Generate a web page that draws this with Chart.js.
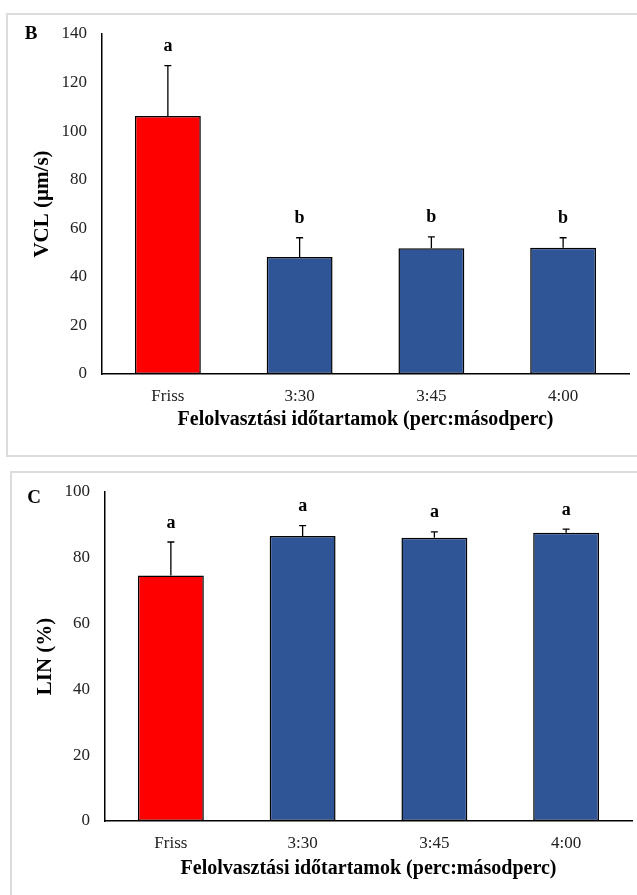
<!DOCTYPE html>
<html><head><meta charset="utf-8">
<script src="https://cdn.jsdelivr.net/npm/chart.js@4"></script>
<style>
html,body{margin:0;padding:0;background:#fff;}
body{position:relative;width:637px;height:895px;overflow:hidden;}
.box{position:absolute;border:2px solid #dcdcdc;box-sizing:border-box;}
canvas{position:absolute;left:0;}
</style></head><body>
<div class="box" style="left:6px;top:13px;width:640px;height:444px;"></div>
<div class="box" style="left:10px;top:471px;width:640px;height:440px;"></div>
<canvas id="cB" width="637" height="455" style="top:0"></canvas>
<canvas id="cC" width="637" height="440" style="top:455px"></canvas>
<script>
// ---- data ----
const categories = ['Friss', '3:30', '3:45', '4:00'];
const vclMeans   = [106.2, 48.2, 51.8, 52.0];
const vclErrors  = [20.8, 7.9, 4.7, 4.1];
const vclLetters = ['a', 'b', 'b', 'b'];
const linMeans   = [74.6, 86.6, 86.1, 87.6];
const linErrors  = [10.2, 3.2, 1.8, 1.1];
const linLetters = ['a', 'a', 'a', 'a'];
const vclAxisMax = 140, vclStep = 20;
const linAxisMax = 100, linStep = 20;
const xTitle = 'Felolvasztási időtartamok (perc:másodperc)';
const vclTitle = 'VCL (µm/s)';
const linTitle = 'LIN (%)';

const SERIF = '"Liberation Serif", "Times New Roman", serif';

const annotPlugin = {
  id: 'annot',
  afterDatasetsDraw(chart, args, opts) {
    const ctx = chart.ctx;
    const meta = chart.getDatasetMeta(0);
    const ys = chart.scales.y;
    const ds = chart.data.datasets[0];
    ctx.save();
    meta.data.forEach((bar, i) => {
      const v = ds.data[i];
      const top = ys.getPixelForValue(v + opts.errors[i]);
      const base = ys.getPixelForValue(v);
      ctx.strokeStyle = '#000';
      ctx.lineWidth = 1.3;
      ctx.beginPath();
      ctx.moveTo(bar.x, base); ctx.lineTo(bar.x, top);
      ctx.moveTo(bar.x - 3.5, top); ctx.lineTo(bar.x + 3.5, top);
      ctx.stroke();
      ctx.fillStyle = '#000';
      ctx.font = 'bold 18px ' + SERIF;
      ctx.textAlign = 'center';
      ctx.textBaseline = 'middle';
      ctx.fillText(opts.letters[i], bar.x, top - 19);
    });
    ctx.font = 'bold 19px ' + SERIF;
    ctx.textAlign = 'center';
    ctx.textBaseline = 'middle';
    ctx.fillStyle = '#000';
    ctx.fillText(opts.panel, opts.panelX, opts.panelY);
    ctx.restore();
  }
};

function makeChart(id, means, errors, letters, yMax, yStep, yTitleText, g) {
  return new Chart(document.getElementById(id), {
    type: 'bar',
    data: {
      labels: categories,
      datasets: [{
        data: means,
        backgroundColor: c => c.dataIndex === 0 ? '#FF0000' : '#2F5597',
        borderColor: '#000',
        borderWidth: 1.5,
        borderSkipped: false,
        barPercentage: 0.5,
        categoryPercentage: 1.0
      }]
    },
    options: {
      responsive: false,
      animation: false,
      layout: { padding: { top: g.top, right: g.right, left: 0, bottom: 0 } },
      plugins: {
        legend: { display: false },
        tooltip: { enabled: false },
        annot: { errors: errors, letters: letters, panel: g.panel, panelX: g.panelX, panelY: g.panelY }
      },
      scales: {
        x: {
          grid: { display: false, drawTicks: false },
          border: { color: '#000', width: 1.5 },
          ticks: { color: '#222', padding: g.xTickPad, font: { family: SERIF, size: 17 } },
          title: { display: true, text: xTitle, color: '#000',
                   font: { family: SERIF, size: 20, weight: 'bold' },
                   padding: { top: 0, bottom: g.xTitlePadBottom } },
          afterFit: s => { s.height = g.xHeight; }
        },
        y: {
          min: 0, max: yMax,
          grid: { display: false, drawTicks: false },
          border: { color: '#000', width: 1.5 },
          ticks: { stepSize: yStep, color: '#222', padding: 15, font: { family: SERIF, size: 17 } },
          title: { display: true, text: yTitleText, color: '#000',
                   font: { family: SERIF, size: 21, weight: 'bold' },
                   padding: { top: g.yTitlePadTop, bottom: 0 } },
          afterFit: s => { s.width = g.yWidth; }
        }
      }
    },
    plugins: [annotPlugin]
  });
}

makeChart('cB', vclMeans, vclErrors, vclLetters, vclAxisMax, vclStep, vclTitle,
  { top: 34, right: 8, yWidth: 102, xHeight: 81, xTickPad: 12, xTitlePadBottom: 23,
    yTitlePadTop: 30, panel: 'B', panelX: 31, panelY: 34 });
makeChart('cC', linMeans, linErrors, linLetters, linAxisMax, linStep, linTitle,
  { top: 37, right: 5, yWidth: 105, xHeight: 74, xTickPad: 12, xTitlePadBottom: 14,
    yTitlePadTop: 33, panel: 'C', panelX: 34, panelY: 43 });
</script>
</body></html>
